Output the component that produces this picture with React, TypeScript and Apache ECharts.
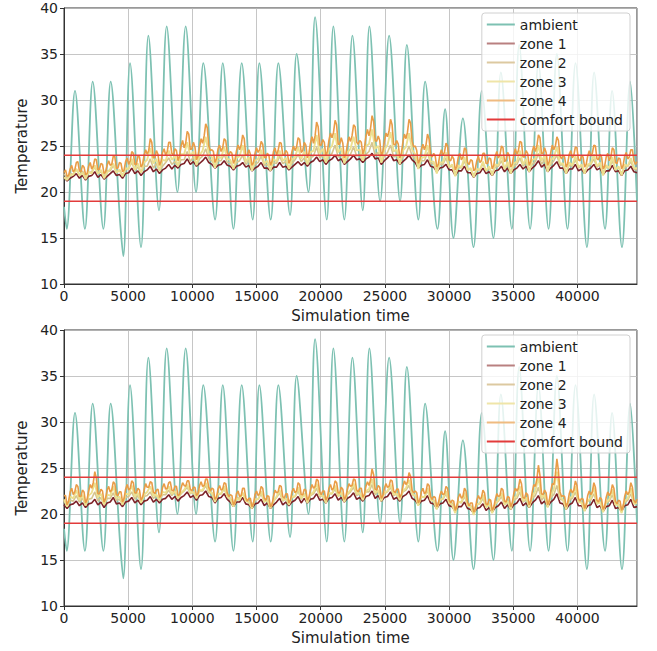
import React, { useEffect, useRef } from "react";
import * as echarts from "echarts";

// ---------- data ----------
const X_MAX = 44640;
const ZONE_STEP = 240; // zones 1-3 sampled every 240
const ZONE4_STEP = 120; // zone 4 sampled every 120
const comfortBounds = [19, 24];
const seriesNames = ["ambient", "zone 1", "zone 2", "zone 3", "zone 4", "comfort bound"];

const ambientTime = [
  0, 210, 857, 1630, 2236, 3070, 3635, 4360, 4620, 5145, 6000, 6575, 7400, 8000, 8835, 9480,
  10290, 10855, 11770, 12370, 13200, 13845, 14700, 15220, 16105, 16700, 17610, 18125, 19045,
  19560, 20470, 20985, 21840, 22470, 23275, 23795, 24630, 25330, 26185, 26710, 27610, 28135,
  29095, 29690, 30340, 31075, 31900, 32550, 33455, 34035, 34890, 35460, 36315, 36960, 37750,
  38400, 39225, 39850, 40740, 41300, 42150, 42700, 43470, 44100, 44640,
];
const ambientTemp = [
  18.4, 16, 31, 16, 32, 16, 32, 17, 13, 34, 14, 37, 18, 38, 20, 38, 20, 34, 17, 34, 16, 34, 17,
  34, 17, 34, 17.5, 35, 20, 39, 17, 38, 17, 37, 18, 38, 19, 37, 19, 36, 17, 32, 16, 29, 15, 28,
  14, 31, 15, 33, 16, 36, 16, 34, 16, 35, 16, 34, 14, 33, 16, 31, 14, 32, 19,
];

const zone1Top = [
  21.6, 21.2, 21.5, 21.7, 22.0, 21.5, 21.8, 21.3, 21.7, 21.8, 22.2, 21.6,
  21.9, 21.4, 21.7, 22.0, 22.3, 21.8, 21.9, 21.5, 22.0, 22.1, 22.6, 22.0,
  22.3, 21.8, 22.2, 22.4, 22.8, 22.2, 22.5, 22.0, 22.4, 22.6, 23.0, 22.5,
  22.9, 22.6, 23.0, 23.1, 23.6, 23.0, 23.3, 22.8, 23.1, 23.4, 23.8, 23.2,
  23.0, 22.6, 22.9, 23.0, 23.4, 22.9, 22.8, 22.4, 22.8, 22.9, 23.2, 22.7,
  22.9, 22.3, 22.6, 22.8, 23.2, 22.6, 22.6, 22.3, 22.7, 22.7, 23.2, 22.7,
  22.8, 22.4, 22.7, 23.0, 23.3, 22.9, 23.2, 22.8, 23.2, 23.4, 23.8, 23.3,
  23.5, 23.0, 23.4, 23.6, 24.0, 23.4, 23.6, 23.0, 23.3, 23.6, 24.0, 23.5,
  23.6, 23.2, 23.6, 23.8, 24.2, 23.6, 23.7, 23.0, 23.4, 23.7, 24.1, 23.4,
  23.5, 23.0, 23.3, 23.6, 24.0, 23.5, 23.2, 22.6, 22.9, 23.0, 23.5, 22.8,
  22.7, 22.2, 22.6, 22.7, 23.0, 22.4, 22.4, 21.8, 22.3, 22.3, 22.8, 22.1,
  22.1, 21.6, 22.0, 22.1, 22.6, 22.0, 22.2, 21.8, 22.3, 22.4, 22.8, 22.2,
  22.6, 22.0, 22.4, 22.6, 23.0, 22.5, 22.8, 22.2, 22.6, 22.9, 23.4, 22.7,
  23.0, 22.2, 22.6, 22.9, 23.3, 22.6, 22.6, 22.0, 22.5, 22.5, 23.0, 22.3,
  22.5, 22.0, 22.4, 22.6, 23.0, 22.4, 22.6, 21.9, 22.3, 22.3, 22.9, 22.2,
  22.3, 21.8, 22.3, 22.4, 22.8, 22.2, 22.1,
];
const zone2Top = [
  22.0, 21.5, 22.0, 21.9, 22.5, 21.8, 22.3, 21.6, 22.1, 22.2, 22.7, 22.0,
  22.2, 21.7, 22.3, 22.3, 22.9, 22.1, 22.4, 21.8, 22.4, 22.6, 23.2, 22.4,
  22.7, 22.1, 22.8, 22.8, 23.6, 22.6, 23.1, 22.3, 22.8, 23.2, 23.7, 23.0,
  23.3, 22.8, 23.5, 23.5, 24.4, 23.3, 23.8, 23.0, 23.6, 23.9, 24.7, 23.6,
  23.4, 22.8, 23.4, 23.4, 24.1, 23.2, 23.2, 22.6, 23.2, 23.4, 24.0, 23.0,
  23.4, 22.5, 23.0, 23.2, 23.9, 22.9, 23.0, 22.5, 23.2, 23.1, 23.9, 23.1,
  23.3, 22.6, 23.1, 23.5, 24.1, 23.3, 23.7, 23.0, 23.7, 23.9, 24.9, 23.7,
  24.0, 23.2, 23.9, 24.2, 25.1, 23.8, 24.1, 23.2, 23.8, 24.1, 24.9, 23.9,
  24.1, 23.4, 24.1, 24.4, 25.4, 24.0, 24.3, 23.2, 23.9, 24.3, 25.1, 23.8,
  24.0, 23.2, 23.8, 24.1, 25.0, 23.9, 23.6, 22.8, 23.4, 23.4, 24.3, 23.1,
  23.1, 22.4, 23.0, 23.0, 23.7, 22.7, 22.8, 22.0, 22.7, 22.6, 23.4, 22.4,
  22.5, 21.8, 22.4, 22.4, 23.1, 22.3, 22.6, 22.0, 22.7, 22.8, 23.4, 22.5,
  23.0, 22.2, 22.8, 23.0, 23.7, 22.8, 23.2, 22.4, 23.0, 23.3, 24.2, 23.0,
  23.5, 22.4, 23.0, 23.4, 24.0, 22.9, 23.0, 22.2, 22.9, 22.8, 23.5, 22.6,
  22.9, 22.2, 22.8, 23.0, 23.6, 22.7, 23.0, 22.1, 22.7, 22.6, 23.4, 22.4,
  22.7, 22.0, 22.7, 22.8, 23.3, 22.5, 22.4,
];
const zone3Top = [
  21.6, 21.3, 21.8, 21.9, 22.5, 21.8, 22.1, 21.4, 22.2, 22.0, 22.9, 22.0,
  22.4, 21.5, 22.1, 22.5, 23.1, 22.1, 22.4, 21.7, 22.6, 22.5, 23.6, 22.4,
  23.1, 22.1, 23.2, 23.5, 24.8, 23.1, 23.6, 22.3, 23.5, 23.4, 24.5, 23.5,
  23.9, 22.8, 24.1, 24.1, 25.4, 23.9, 24.4, 22.9, 24.0, 24.5, 26.0, 24.2,
  23.8, 22.6, 23.8, 23.7, 24.9, 23.6, 23.5, 22.5, 23.7, 23.9, 25.1, 23.3,
  23.8, 22.3, 23.4, 23.6, 24.6, 23.1, 23.4, 22.3, 23.6, 23.3, 24.5, 23.4,
  23.7, 22.5, 23.5, 23.8, 24.9, 23.6, 24.4, 23.0, 24.3, 24.5, 26.2, 24.2,
  24.7, 23.2, 24.6, 25.0, 26.4, 24.3, 24.8, 23.1, 24.3, 24.7, 26.0, 24.5,
  24.6, 23.4, 25.0, 25.2, 26.8, 24.7, 25.0, 23.2, 24.6, 25.1, 26.5, 24.4,
  24.6, 23.0, 24.5, 24.9, 26.4, 24.6, 24.1, 22.5, 23.7, 23.8, 25.1, 23.3,
  23.3, 22.0, 23.2, 23.2, 24.3, 22.7, 23.0, 21.7, 22.9, 22.7, 23.8, 22.4,
  22.6, 21.6, 22.5, 22.4, 23.3, 22.3, 22.8, 21.8, 23.0, 22.9, 24.0, 22.5,
  23.3, 22.0, 23.1, 23.3, 24.5, 23.0, 23.6, 22.2, 23.5, 23.6, 25.1, 23.4,
  23.9, 22.2, 23.4, 23.8, 24.9, 23.1, 23.1, 22.0, 23.2, 22.9, 23.9, 22.7,
  23.0, 22.0, 23.0, 23.1, 24.1, 22.8, 23.2, 21.8, 22.9, 22.6, 23.8, 22.4,
  22.8, 21.8, 23.0, 22.8, 23.7, 22.6, 22.6,
];
const zone4Top = [
  22.1, 22.4, 21.7, 21.8, 22.5, 22.9, 22.2, 22.4, 23.2, 23.3, 22.3, 22.2,
  22.9, 22.7, 21.9, 22.0, 22.8, 23.2, 22.5, 22.8, 23.6, 23.5, 22.4, 22.5,
  23.1, 23.0, 22.0, 22.2, 22.9, 23.4, 22.9, 23.0, 23.9, 23.8, 22.6, 22.6,
  23.2, 23.1, 22.2, 22.4, 23.3, 23.7, 23.0, 23.4, 24.4, 24.2, 23.0, 23.0,
  23.9, 23.8, 22.7, 23.0, 24.0, 24.6, 24.1, 24.5, 25.8, 25.4, 23.7, 23.8,
  24.5, 24.1, 22.9, 23.3, 24.3, 24.7, 24.0, 24.4, 25.4, 25.4, 24.2, 24.0,
  24.7, 24.5, 23.4, 23.9, 25.0, 25.6, 24.8, 25.3, 26.6, 26.3, 24.6, 24.7,
  25.4, 24.9, 23.5, 23.9, 24.9, 25.8, 25.3, 26.1, 27.4, 27.0, 25.0, 24.5,
  24.6, 24.4, 23.2, 23.6, 24.7, 25.1, 24.4, 24.8, 25.8, 25.6, 24.3, 24.0,
  24.4, 24.2, 23.1, 23.5, 24.5, 25.1, 24.6, 25.1, 26.2, 25.8, 24.0, 24.0,
  24.6, 24.1, 22.9, 23.2, 24.2, 24.8, 24.3, 24.6, 25.5, 25.2, 23.8, 23.7,
  24.2, 24.0, 22.9, 23.3, 24.4, 24.8, 24.0, 24.5, 25.4, 25.3, 24.1, 24.0,
  24.5, 24.3, 23.1, 23.5, 24.4, 25.0, 24.5, 24.9, 25.9, 25.7, 24.3, 24.5,
  25.4, 25.1, 23.7, 24.2, 25.3, 26.0, 25.3, 26.1, 27.6, 27.1, 25.1, 25.1,
  25.7, 25.4, 23.9, 24.4, 25.6, 26.4, 25.9, 26.5, 27.8, 27.3, 25.2, 25.2,
  25.9, 25.3, 23.7, 24.1, 25.2, 26.0, 25.5, 26.1, 27.3, 27.1, 25.4, 25.2,
  25.6, 25.4, 24.1, 24.7, 26.0, 26.8, 26.1, 26.9, 28.3, 27.7, 25.6, 25.5,
  26.1, 25.6, 23.9, 24.4, 25.5, 26.4, 26.0, 26.6, 27.9, 27.3, 25.2, 25.1,
  25.6, 25.2, 23.7, 24.2, 25.4, 26.3, 25.8, 26.5, 27.9, 27.5, 25.5, 24.9,
  25.0, 24.5, 23.1, 23.5, 24.6, 25.2, 24.6, 25.1, 26.3, 25.8, 24.1, 23.8,
  24.2, 23.9, 22.7, 23.0, 24.0, 24.6, 24.0, 24.3, 25.3, 25.0, 23.5, 23.4,
  23.9, 23.6, 22.4, 22.8, 23.8, 24.2, 23.5, 23.8, 24.8, 24.6, 23.2, 23.0,
  23.5, 23.4, 22.3, 22.5, 23.4, 23.9, 23.2, 23.4, 24.2, 24.2, 23.1, 23.1,
  23.7, 23.6, 22.5, 22.9, 23.9, 24.4, 23.7, 24.0, 25.0, 24.8, 23.3, 23.5,
  24.3, 24.0, 22.7, 23.0, 24.0, 24.7, 24.1, 24.5, 25.5, 25.4, 23.8, 23.8,
  24.5, 24.2, 22.9, 23.3, 24.4, 25.0, 24.4, 25.0, 26.2, 25.9, 24.2, 24.2,
  24.8, 24.3, 22.9, 23.3, 24.3, 25.1, 24.6, 25.0, 26.0, 25.6, 23.9, 23.6,
  24.0, 23.8, 22.7, 23.1, 24.1, 24.5, 23.7, 24.0, 24.9, 24.8, 23.5, 23.4,
  23.9, 23.8, 22.7, 23.0, 23.9, 24.5, 23.9, 24.2, 25.1, 25.0, 23.6, 23.5,
  24.1, 23.8, 22.5, 22.8, 23.8, 24.2, 23.4, 23.8, 24.8, 24.6, 23.2, 23.1,
  23.7, 23.6, 22.5, 22.9, 23.9, 24.3, 23.6, 23.8, 24.6, 24.6, 23.4, 23.0,
  23.3,
];

const zone1Bottom = [
  21.0, 20.6, 21.0, 21.1, 21.4, 20.9, 21.2, 20.7, 21.1, 21.2, 21.6, 21.0,
  21.3, 20.7, 21.2, 21.3, 21.8, 21.1, 21.2, 20.8, 21.3, 21.4, 21.8, 21.2,
  21.5, 21.0, 21.4, 21.5, 21.9, 21.3, 21.6, 21.2, 21.6, 21.7, 22.1, 21.6,
  21.9, 21.4, 21.8, 22.0, 22.4, 21.8, 22.0, 21.5, 22.0, 22.1, 22.5, 21.9,
  21.8, 21.2, 21.7, 21.8, 22.2, 21.6, 21.3, 20.8, 21.3, 21.3, 21.8, 21.1,
  21.0, 20.6, 21.1, 21.2, 21.6, 20.9, 21.2, 20.6, 21.0, 21.3, 21.7, 21.0,
  21.3, 20.9, 21.3, 21.5, 21.9, 21.2, 21.7, 21.2, 21.6, 21.7, 22.2, 21.5,
  21.6, 21.2, 21.7, 21.8, 22.2, 21.5, 21.8, 21.3, 21.7, 21.9, 22.3, 21.6,
  21.8, 21.4, 21.9, 22.0, 22.5, 21.7, 22.0, 21.4, 21.8, 21.9, 22.4, 21.6,
  21.8, 21.4, 21.9, 22.1, 22.5, 21.7, 21.5, 21.0, 21.4, 21.5, 22.0, 21.2,
  21.1, 20.6, 21.1, 21.2, 21.6, 20.9, 20.8, 20.3, 20.8, 20.8, 21.3, 20.6,
  20.5, 20.1, 20.6, 20.7, 21.1, 20.4, 20.7, 20.2, 20.7, 20.9, 21.3, 20.6,
  21.0, 20.5, 21.0, 21.2, 21.7, 20.9, 21.2, 20.7, 21.2, 21.5, 22.0, 21.1,
  21.4, 20.8, 21.3, 21.6, 22.2, 21.2, 21.1, 20.5, 21.0, 21.2, 21.8, 20.9,
  20.9, 20.4, 20.9, 21.0, 21.6, 20.7, 20.9, 20.3, 20.8, 20.9, 21.5, 20.6,
  20.7, 20.3, 20.9, 21.0, 21.6, 20.7, 20.8,
];
const zone2Bottom = [
  21.4, 20.9, 21.5, 21.4, 22.0, 21.3, 21.7, 21.0, 21.6, 21.7, 22.4, 21.4,
  21.8, 21.0, 21.7, 21.7, 22.3, 21.5, 21.6, 21.1, 21.8, 21.9, 22.4, 21.6,
  22.0, 21.3, 21.9, 22.0, 22.4, 21.7, 22.0, 21.5, 22.1, 22.1, 22.6, 22.0,
  22.4, 21.7, 22.2, 22.5, 22.9, 22.2, 22.4, 21.8, 22.5, 22.5, 23.1, 22.3,
  22.3, 21.5, 22.1, 22.2, 22.7, 21.9, 21.7, 21.1, 21.8, 21.7, 22.3, 21.5,
  21.4, 20.9, 21.6, 21.6, 22.2, 21.3, 21.7, 20.9, 21.4, 21.8, 22.3, 21.4,
  21.7, 21.2, 21.8, 21.9, 22.5, 21.6, 22.2, 21.5, 22.0, 22.2, 22.8, 21.9,
  22.0, 21.5, 22.2, 22.2, 22.7, 21.9, 22.3, 21.6, 22.1, 22.4, 22.9, 22.0,
  22.2, 21.7, 22.4, 22.4, 23.2, 22.1, 22.5, 21.7, 22.2, 22.4, 22.9, 22.0,
  22.2, 21.7, 22.4, 22.6, 23.1, 22.1, 22.0, 21.3, 21.8, 21.9, 22.5, 21.6,
  21.5, 20.9, 21.6, 21.6, 22.2, 21.3, 21.2, 20.6, 21.3, 21.2, 21.9, 21.0,
  20.9, 20.4, 21.1, 21.1, 21.7, 20.8, 21.1, 20.5, 21.1, 21.4, 21.9, 21.0,
  21.4, 20.8, 21.5, 21.7, 22.4, 21.3, 21.6, 21.0, 21.7, 22.0, 22.9, 21.5,
  21.9, 21.1, 21.8, 22.1, 23.1, 21.6, 21.5, 20.8, 21.5, 21.7, 22.4, 21.3,
  21.3, 20.7, 21.4, 21.5, 22.2, 21.1, 21.3, 20.6, 21.2, 21.4, 22.1, 21.0,
  21.1, 20.6, 21.3, 21.5, 22.2, 21.1, 21.2,
];
const zone3Bottom = [
  21.6, 20.8, 21.9, 21.7, 22.6, 21.5, 22.1, 20.9, 22.0, 22.3, 23.4, 21.8,
  22.2, 21.0, 22.1, 22.0, 23.0, 21.7, 21.9, 21.0, 22.2, 22.1, 23.1, 21.9,
  22.3, 21.2, 22.1, 22.4, 23.0, 22.0, 22.1, 21.5, 22.4, 22.3, 23.0, 22.2,
  22.5, 21.7, 22.3, 22.6, 23.2, 22.3, 22.4, 21.7, 22.6, 22.6, 23.4, 22.5,
  22.3, 21.3, 22.2, 22.2, 23.0, 21.9, 21.6, 20.8, 21.7, 21.5, 22.3, 21.4,
  21.3, 20.6, 21.6, 21.6, 22.5, 21.3, 21.5, 20.6, 21.4, 21.9, 22.6, 21.5,
  21.7, 21.0, 21.9, 21.9, 22.9, 21.7, 22.2, 21.2, 22.1, 22.4, 23.3, 22.0,
  22.0, 21.2, 22.3, 22.2, 23.1, 21.9, 22.4, 21.3, 22.2, 22.6, 23.3, 22.2,
  22.3, 21.5, 22.5, 22.7, 23.8, 22.3, 22.6, 21.4, 22.3, 22.5, 23.2, 22.1,
  22.2, 21.5, 22.5, 22.8, 23.7, 22.2, 22.0, 20.9, 21.9, 21.8, 22.8, 21.5,
  21.4, 20.5, 21.5, 21.7, 22.5, 21.2, 21.0, 20.1, 21.3, 21.3, 22.3, 20.9,
  20.8, 19.9, 21.0, 21.2, 22.1, 20.7, 21.1, 20.1, 21.1, 21.5, 22.3, 21.0,
  21.4, 20.5, 21.7, 22.0, 23.0, 21.4, 21.8, 20.7, 21.9, 22.5, 24.0, 21.8,
  22.1, 20.7, 22.0, 22.7, 24.6, 22.0, 21.5, 20.5, 21.7, 21.9, 23.0, 21.3,
  21.2, 20.3, 21.5, 21.7, 22.9, 21.1, 21.3, 20.2, 21.3, 21.6, 22.7, 21.0,
  21.0, 20.1, 21.4, 21.7, 22.8, 21.1, 21.2,
];
const zone4Bottom = [
  22.0, 22.0, 21.0, 21.4, 22.4, 22.8, 22.1, 22.4, 23.2, 23.0, 21.9, 21.9,
  22.6, 22.4, 21.2, 21.6, 22.5, 23.2, 22.8, 23.4, 24.6, 23.9, 22.2, 22.2,
  22.7, 22.5, 21.3, 21.7, 22.6, 23.0, 22.4, 22.6, 23.5, 23.3, 22.1, 22.0,
  22.4, 22.4, 21.3, 21.7, 22.7, 23.2, 22.6, 22.8, 23.6, 23.4, 22.3, 22.3,
  22.8, 22.6, 21.5, 21.8, 22.6, 23.3, 22.9, 22.9, 23.5, 23.4, 22.4, 22.2,
  22.6, 22.7, 21.8, 22.0, 22.9, 23.3, 22.7, 22.8, 23.4, 23.5, 22.6, 22.5,
  23.0, 23.0, 22.0, 22.1, 22.8, 23.4, 23.1, 23.0, 23.6, 23.6, 22.7, 22.5,
  22.9, 22.9, 22.0, 22.2, 23.1, 23.5, 23.0, 23.1, 23.8, 23.8, 22.9, 22.5,
  22.8, 22.7, 21.6, 21.8, 22.7, 23.1, 22.6, 22.7, 23.4, 23.3, 22.3, 21.9,
  22.1, 22.0, 21.0, 21.3, 22.2, 22.5, 21.9, 22.0, 22.8, 22.8, 21.8, 21.4,
  21.7, 21.7, 20.8, 21.1, 22.1, 22.5, 22.0, 22.2, 23.0, 22.8, 21.7, 21.5,
  22.0, 21.9, 20.8, 21.0, 21.9, 22.6, 22.3, 22.4, 23.1, 23.0, 21.9, 21.7,
  22.2, 22.2, 21.2, 21.5, 22.4, 22.8, 22.3, 22.5, 23.4, 23.2, 22.1, 22.1,
  22.7, 22.6, 21.5, 21.8, 22.6, 23.2, 22.8, 23.0, 23.8, 23.6, 22.4, 22.1,
  22.5, 22.5, 21.5, 21.8, 22.8, 23.2, 22.6, 22.8, 23.6, 23.4, 22.3, 22.3,
  22.9, 22.7, 21.6, 21.9, 22.7, 23.3, 23.0, 23.1, 23.8, 23.7, 22.6, 22.4,
  22.8, 22.8, 21.8, 22.1, 23.0, 23.5, 23.1, 23.7, 24.9, 24.3, 22.7, 22.6,
  23.1, 22.9, 21.7, 22.0, 22.8, 23.3, 22.9, 23.0, 23.7, 23.6, 22.5, 22.3,
  22.7, 22.7, 21.8, 22.1, 23.0, 23.6, 23.2, 23.5, 24.5, 24.1, 22.6, 22.3,
  22.5, 22.3, 21.2, 21.5, 22.4, 22.8, 22.2, 22.4, 23.3, 23.1, 21.9, 21.6,
  21.9, 21.8, 20.8, 21.1, 22.0, 22.5, 22.1, 22.2, 23.0, 22.8, 21.6, 21.2,
  21.5, 21.4, 20.4, 20.8, 21.8, 22.2, 21.7, 21.9, 22.8, 22.5, 21.3, 20.9,
  21.2, 21.2, 20.2, 20.5, 21.5, 22.0, 21.6, 21.8, 22.6, 22.3, 21.1, 21.0,
  21.6, 21.5, 20.4, 20.7, 21.6, 22.2, 21.9, 22.0, 22.8, 22.6, 21.4, 21.3,
  21.9, 21.8, 20.8, 21.2, 22.2, 22.8, 22.5, 22.8, 23.8, 23.3, 21.8, 21.7,
  22.3, 22.1, 21.0, 21.4, 22.4, 23.2, 23.0, 23.8, 25.3, 24.2, 22.2, 22.1,
  22.6, 22.3, 21.0, 21.4, 22.5, 23.3, 23.2, 24.3, 26.0, 24.7, 22.4, 21.9,
  22.0, 21.9, 20.8, 21.2, 22.2, 22.7, 22.3, 22.6, 23.6, 23.1, 21.7, 21.4,
  21.7, 21.6, 20.6, 21.0, 22.0, 22.5, 22.1, 22.4, 23.4, 22.9, 21.5, 21.3,
  21.8, 21.6, 20.5, 20.8, 21.8, 22.4, 22.0, 22.3, 23.2, 22.8, 21.4, 21.1,
  21.5, 21.4, 20.4, 20.8, 21.9, 22.5, 22.1, 22.4, 23.4, 22.9, 21.5, 21.2,
  21.6,
];

// ---------- styles ----------
const COLORS = {
  ambient: "#7dc1b2",
  zone1: "#7e2228",
  zone2: "#d6c48e",
  zone3: "#ece08f",
  zone4: "#e99c46",
  bound: "#e23b3b",
};
const LEGEND_COLORS: Record<string, string> = {
  ambient: "#7dc1b2",
  "zone 1": "#b98080",
  "zone 2": "#dcc9a0",
  "zone 3": "#efe5a8",
  "zone 4": "#efbb80",
  "comfort bound": "#e23b3b",
};
const FONT = "DejaVu Sans";
const GRID_LEFT = 64;
const GRID_WIDTH = 573;
const GRID_HEIGHT = 276;
const PANEL_TOPS = [8, 330];

const ambientData = ambientTemp.map((v, i) => [ambientTime[i], v]);
const toPairs = (vals: number[], step: number) => vals.map((v, i) => [i * step, v]);

function panelSeries(idx: number, z1: number[], z2: number[], z3: number[], z4: number[]) {
  const base = { type: "line", xAxisIndex: idx, yAxisIndex: idx, symbol: "none", silent: true };
  const zoneLine = (
    name: string,
    data: number[],
    step: number,
    color: string,
    z: number,
    width: number
  ) => ({
    ...base,
    name,
    data: toPairs(data, step),
    z,
    lineStyle: { color, width },
    itemStyle: { color },
  });
  return [
    {
      ...base,
      name: "ambient",
      data: ambientData,
      smooth: 0.35,
      z: 1,
      lineStyle: { color: COLORS.ambient, width: 1.8 },
      itemStyle: { color: COLORS.ambient },
    },
    zoneLine("zone 1", z1, ZONE_STEP, COLORS.zone1, 2, 1.6),
    zoneLine("zone 2", z2, ZONE_STEP, COLORS.zone2, 3, 1.6),
    zoneLine("zone 3", z3, ZONE_STEP, COLORS.zone3, 4, 1.9),
    zoneLine("zone 4", z4, ZONE4_STEP, COLORS.zone4, 5, 1.6),
    ...comfortBounds.map((b) => ({
      ...base,
      name: "comfort bound",
      data: [
        [0, b],
        [X_MAX, b],
      ],
      z: 6,
      lineStyle: { color: COLORS.bound, width: 1.5 },
      itemStyle: { color: COLORS.bound },
    })),
  ];
}

export default function App() {
  const ref = useRef<HTMLDivElement>(null);
  useEffect(() => {
    if (!ref.current) return;
    const chart = echarts.init(ref.current, null, { renderer: "svg" });
    const axisText = { fontFamily: FONT, fontSize: 14, color: "#222" };
    const grids = PANEL_TOPS.map((top) => ({
      left: GRID_LEFT,
      top,
      width: GRID_WIDTH,
      height: GRID_HEIGHT,
      show: true,
      borderColor: "#333",
      borderWidth: 1,
      backgroundColor: "transparent",
    }));
    const xAxes = PANEL_TOPS.map((_, i) => ({
      type: "value",
      gridIndex: i,
      min: 0,
      max: X_MAX,
      interval: 5000,
      name: "Simulation time",
      nameLocation: "middle",
      nameGap: 24,
      nameTextStyle: { fontFamily: FONT, fontSize: 15, color: "#222" },
      axisLine: { show: true, onZero: false, lineStyle: { color: "#333", width: 1 } },
      axisTick: { show: true, length: 4, lineStyle: { color: "#333" } },
      axisLabel: {
        ...axisText,
        margin: 5,
        showMaxLabel: false,
        formatter: (v: number) => (v % 5000 === 0 ? String(v) : ""),
      },
      splitLine: { show: true, lineStyle: { color: "#b8b8b8", width: 0.8 } },
    }));
    const yAxes = PANEL_TOPS.map((_, i) => ({
      type: "value",
      gridIndex: i,
      min: 10,
      max: 40,
      interval: 5,
      name: "Temperature",
      nameLocation: "middle",
      nameGap: 31,
      nameTextStyle: { fontFamily: FONT, fontSize: 15, color: "#222" },
      axisLine: { show: true, lineStyle: { color: "#333", width: 1 } },
      axisTick: { show: true, length: 4, lineStyle: { color: "#333" } },
      axisLabel: { ...axisText, margin: 6 },
      splitLine: { show: true, lineStyle: { color: "#b8b8b8", width: 0.8 } },
    }));
    const legends = PANEL_TOPS.map((top) => ({
      right: 27,
      top: top + 5,
      orient: "vertical",
      data: seriesNames.map((name) => ({
        name,
        icon: "rect",
        itemStyle: { color: LEGEND_COLORS[name] },
      })),
      itemWidth: 28,
      itemHeight: 2,
      itemGap: 4,
      padding: [4, 7, 4, 5],
      backgroundColor: "rgba(255,255,255,0.8)",
      borderColor: "#d0d0d0",
      borderWidth: 1,
      borderRadius: 3,
      textStyle: { fontFamily: FONT, fontSize: 14, color: "#222", lineHeight: 15 },
      selectedMode: false,
    }));
    chart.setOption({
      animation: false,
      backgroundColor: "#fff",
      textStyle: { fontFamily: FONT },
      grid: grids,
      xAxis: xAxes,
      yAxis: yAxes,
      legend: legends,
      series: [
        ...panelSeries(0, zone1Top, zone2Top, zone3Top, zone4Top),
        ...panelSeries(1, zone1Bottom, zone2Bottom, zone3Bottom, zone4Bottom),
      ],
    });
    return () => chart.dispose();
  }, []);
  return (
    <div
      ref={ref}
      style={{ position: "absolute", left: 0, top: 0, width: 657, height: 651 }}
    />
  );
}
